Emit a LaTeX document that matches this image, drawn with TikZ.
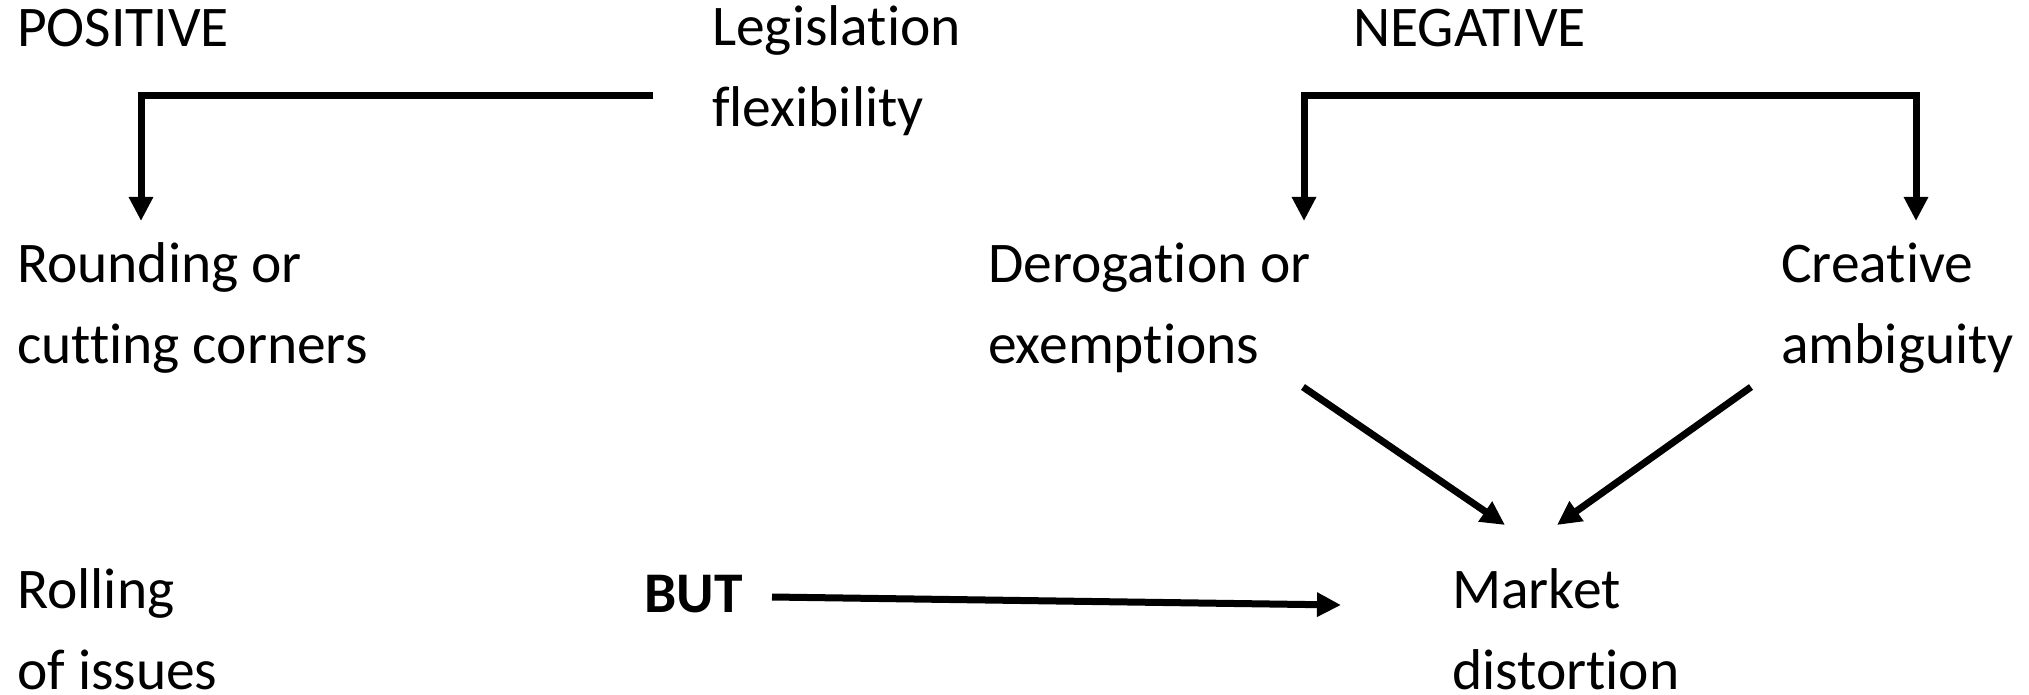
\documentclass[tikz,border=0pt]{standalone}
\usepackage{fontspec}
\setmainfont{Carlito}[Ligatures=NoCommon]
\usetikzlibrary{arrows.meta}

\begin{document}
\begin{tikzpicture}[x=1pt, y=-1pt,
    word/.style={anchor=base west, inner sep=0pt, align=left,
                 font=\fontsize{57.5}{81}\selectfont},
    link/.style={line width=7pt, -{Triangle[length=24pt,width=23pt]}}]

\useasboundingbox (0,0) rectangle (2029,695);

% Headings (base = last line)
\node[word] (pos) at (17,47)   {POSITIVE};
\node[word] (leg) at (712,127) {Legislation\\flexibility};
\node[word] (neg) at (1353,47) {NEGATIVE};

% ================================================================
% Middle row
% ================================================================
\node[word] (round)    at (17,363)   {Rounding or\\cutting corners};
\node[word] (derog)    at (988,363)  {Derogation or\\exemptions};
\node[word] (creative) at (1781,363) {Creative\\ambiguity};

% ================================================================
% Bottom row
% ================================================================
\node[word, text depth=0pt] (rolling) at (17,689)   {Rolling\\of issues};
\node[word, font=\fontsize{57.5}{81}\selectfont\bfseries] (but) at (644,612) {BUT};
\node[word, text depth=0pt] (market)  at (1452,689) {Market\\distortion};

% Connector ends
\coordinate (posstart) at (653,96);
\coordinate (posend)   at (141,221);
\coordinate (negleft)  at (1304,221);
\coordinate (negright) at (1916,221);
\coordinate (negtop)   at (1304,96);
\coordinate (dstart)   at (1303,387);
\coordinate (dend)     at (1505,525);
\coordinate (cstart)   at (1751,387);
\coordinate (cend)     at (1557,525);
\coordinate (bstart)   at (772,597);
\coordinate (bend)     at (1341,605);

% Brackets
\draw[link] (posstart) -- (posstart -| posend) -- (posend);
\draw[link, {Triangle[length=24pt,width=23pt]}-{Triangle[length=24pt,width=23pt]}]
    (negleft) -- (negtop) -- (negtop -| negright) -- (negright);

% Arrows into market distortion
\draw[link] (dstart) -- (dend);
\draw[link] (cstart) -- (cend);
\draw[link] (bstart) -- (bend);

\end{tikzpicture}
\end{document}
